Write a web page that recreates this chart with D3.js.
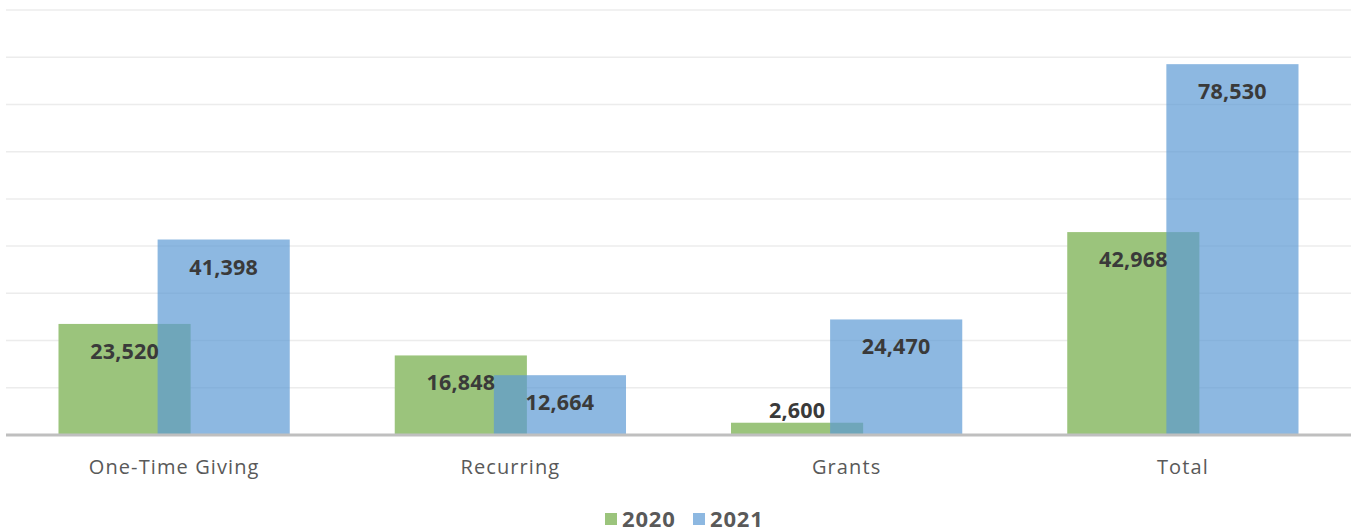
<!DOCTYPE html>
<html>
<head>
<meta charset="utf-8">
<script src="https://cdn.jsdelivr.net/npm/d3@7"></script>
<style>
    body { margin: 0; background: #fff; }
    svg { display: block; }
</style>
</head>
<body>
<div class="chart"></div>
<script>
// values
const categories = ["One-Time Giving", "Recurring", "Grants", "Total"];
const years = ["2020", "2021"];
const values2020 = [23520, 16848, 2600, 42968];
const values2021 = [41398, 12664, 24470, 78530];
const gridTicks = [10000, 20000, 30000, 40000, 50000, 60000, 70000, 80000, 90000];

const width = 1359, height = 532;
const margin = { top: 10, right: 8, bottom: 97, left: 6 };
const chartWidth = width - margin.left - margin.right;
const chartHeight = height - margin.top - margin.bottom;

const colors = { "2020": "#9bc47c", "2021": "#5c9ad4" };
const seriesOpacity = { "2020": 1, "2021": 0.7 };

const svg = d3.select(".chart").append("svg")
    .attr("width", width)
    .attr("height", height);

const g = svg.append("g")
    .attr("transform", `translate(${margin.left}, ${margin.top})`);

const xScale = d3.scaleBand()
    .domain(categories)
    .range([0, chartWidth]);

const yScale = d3.scaleLinear()
    .domain([0, 90000])
    .range([chartHeight, 0]);

// bars overlap a little, like the original
const barWidth = xScale.bandwidth() * 0.393;
const barStep = barWidth * 0.75;
const groupWidth = barWidth + barStep;

// grid lines
g.append("g")
    .attr("class", "grid")
    .selectAll("line")
    .data(gridTicks)
    .enter().append("line")
    .attr("x1", 0)
    .attr("x2", chartWidth)
    .attr("y1", d => yScale(d))
    .attr("y2", d => yScale(d))
    .attr("stroke", "#ececec")
    .attr("stroke-width", 1.5);

const series = years.map((y, i) => ({
    year: y,
    index: i,
    values: i === 0 ? values2020 : values2021
}));

const barX = (cat, idx) => xScale(cat) + (xScale.bandwidth() - groupWidth) / 2 + idx * barStep;

series.forEach(s => {
    g.append("g")
        .attr("class", `bars-${s.year}`)
        .selectAll("rect")
        .data(s.values)
        .enter().append("rect")
        .attr("x", (d, i) => barX(categories[i], s.index))
        .attr("y", d => yScale(d))
        .attr("width", barWidth)
        .attr("height", d => chartHeight - yScale(d))
        .attr("fill", colors[s.year])
        .attr("fill-opacity", seriesOpacity[s.year]);
});

// x axis line + category labels
g.append("line")
    .attr("x1", 0)
    .attr("x2", chartWidth)
    .attr("y1", chartHeight)
    .attr("y2", chartHeight)
    .attr("stroke", "#bfbfbf")
    .attr("stroke-width", 3);

g.append("g")
    .selectAll("text")
    .data(categories)
    .enter().append("text")
    .attr("x", d => xScale(d) + xScale.bandwidth() / 2)
    .attr("y", chartHeight + 39)
    .attr("text-anchor", "middle")
    .attr("font-family", "'Open Sans', sans-serif")
    .attr("font-size", 20)
    .attr("letter-spacing", 1.1)
    .attr("fill", "#595959")
    .text(d => d);

// value labels (inside end, above the bar if it is too short)
const fmt = d3.format(",");
series.forEach(s => {
    g.append("g")
        .selectAll("text")
        .data(s.values)
        .enter().append("text")
        .attr("x", (d, i) => barX(categories[i], s.index) + barWidth / 2)
        .attr("y", d => {
            const h = chartHeight - yScale(d);
            return h < 45 ? yScale(d) - 5 : yScale(d) + 35;
        })
        .attr("text-anchor", "middle")
        .attr("font-family", "'Open Sans', sans-serif")
        .attr("font-weight", "bold")
        .attr("font-size", 21.5)
        .attr("letter-spacing", 0.2)
        .attr("fill", "#3a3a3a")
        .text(d => fmt(d));
});

// legend
const legend = svg.append("g")
    .attr("transform", `translate(605, 519)`);

const legendItems = legend.selectAll("g")
    .data(years)
    .enter().append("g")
    .attr("transform", (d, i) => `translate(${i * 88}, 0)`);

legendItems.append("rect")
    .attr("x", 0)
    .attr("y", -6)
    .attr("width", 12)
    .attr("height", 12)
    .attr("fill", d => colors[d])
    .attr("fill-opacity", d => seriesOpacity[d]);

legendItems.append("text")
    .attr("x", 17)
    .attr("y", 8)
    .attr("font-family", "'Open Sans', sans-serif")
    .attr("font-weight", "bold")
    .attr("font-size", 22)
    .attr("letter-spacing", 0.8)
    .attr("fill", "#595959")
    .text(d => d);
</script>
</body>
</html>
